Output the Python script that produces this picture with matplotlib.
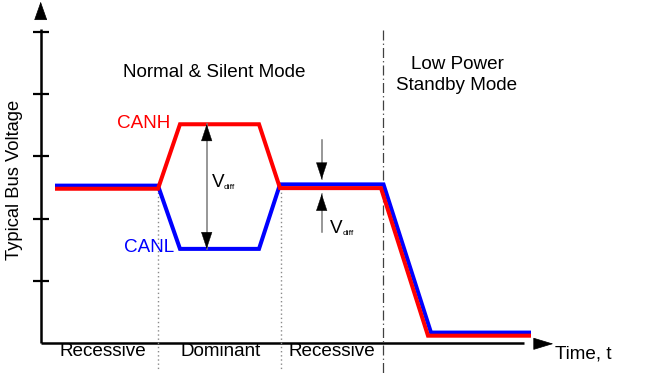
import matplotlib
matplotlib.use("Agg")
import matplotlib.pyplot as plt

plt.rcParams['font.family'] = ['Liberation Sans', 'DejaVu Sans']

# ---- data (time in arbitrary units, voltage in tick units) ----
canh_t = [1.43, 11.73, 13.93, 21.83, 23.93, 34.03, 38.73, 49.03]
canh_v = [2.48, 2.48, 3.52, 3.52, 2.49, 2.49, 0.11, 0.11]
canl_t = [1.43, 11.73, 13.93, 21.83, 23.93, 34.28, 39.03, 49.03]
canl_v = [2.53, 2.53, 1.51, 1.51, 2.55, 2.55, 0.16, 0.16]

y_ticks = [1, 2, 3, 4, 5]
bit_bounds = [11.76, 23.99]          # dotted separators
mode_bound = 34.18                   # dash-dot separator
bit_labels = ["Recessive", "Dominant", "Recessive"]
bit_label_t = [6.23, 18.03, 29.08]
vdiff_dom_t = 16.6
vdiff_rec_t = 28.1

RED = "#ff0000"
BLUE = "#0000ff"

fig = plt.figure(figsize=(6.5, 3.75), dpi=100)
ax = fig.add_axes([0, 0, 1, 1])
ax.set_xlim(-4.07, 60.93)
ax.set_ylim(-0.524, 5.524)
ax.axis("off")

FS = 13.6

# axes lines
ax.plot([0, 0], [0, 5.05], color="black", lw=1.8, solid_capstyle="butt")
ax.plot([0, 48.33], [0, 0], color="black", lw=1.8, solid_capstyle="butt")
ax.plot([0] * len(y_ticks), y_ticks, ls="none", marker="_", ms=12.2,
        mew=1.6, color="black")

# axis arrow heads
ax.annotate("", xy=(0, 5.497), xytext=(0, 5.218),
            arrowprops=dict(arrowstyle="-|>,head_length=12.2,head_width=4.3",
                            mutation_scale=1, color="black", lw=0.5,
                            shrinkA=0, shrinkB=0))
ax.annotate("", xy=(51.26, -0.021), xytext=(49.43, -0.021),
            arrowprops=dict(arrowstyle="-|>,head_length=13.2,head_width=4.0",
                            mutation_scale=1, color="black", lw=0.5,
                            shrinkA=0, shrinkB=0))

# separators
for t in bit_bounds:
    ax.plot([t, t], [2.49, -0.44], color="#8a8a8a", lw=1.0, ls=(0, (1, 2)))
ax.plot([mode_bound, mode_bound], [5.04, -0.6], color="#404040", lw=0.9,
        ls=(0, (8, 2.5, 1, 2.5)))

# signals
ax.plot(canl_t, canl_v, color=BLUE, lw=2.9, solid_joinstyle="miter",
        solid_capstyle="butt")
ax.plot(canh_t, canh_v, color=RED, lw=2.9, solid_joinstyle="miter",
        solid_capstyle="butt")

# Vdiff arrows
GRAY = "#7a7a7a"
def head(x, tip, tail):
    ax.annotate("", xy=(x, tip), xytext=(x, tail),
                arrowprops=dict(arrowstyle="-|>,head_length=11.5,head_width=3.8",
                                mutation_scale=1, color="black", lw=0.3,
                                shrinkA=0, shrinkB=0))

ax.plot([vdiff_dom_t, vdiff_dom_t], [canh_v[2], canl_v[2]], color=GRAY, lw=1.1)
head(vdiff_dom_t, canh_v[2], canh_v[2] - 0.2)
head(vdiff_dom_t, canl_v[2], canl_v[2] + 0.2)

ax.plot([vdiff_rec_t, vdiff_rec_t], [3.266, 2.632], color=GRAY, lw=1.1)
ax.plot([vdiff_rec_t, vdiff_rec_t], [2.395, 1.787], color=GRAY, lw=1.1)
head(vdiff_rec_t, 2.632, 2.85)
head(vdiff_rec_t, 2.395, 2.18)

# texts
ax.text(17.1, 2.503, "V", fontsize=FS, va="baseline", ha="left")
ax.text(18.33, 2.471, "diff", fontsize=6, va="baseline", ha="left")
ax.text(28.93, 1.761, "V", fontsize=FS, va="baseline", ha="left")
ax.text(30.16, 1.734, "diff", fontsize=6, va="baseline", ha="left")

ax.text(17.36, 4.277, "Normal & Silent Mode", fontsize=FS, ha="center",
        va="baseline")
ax.text(41.66, 4.411, "Low Power", fontsize=FS, ha="center", va="baseline")
ax.text(41.6, 4.073, "Standby Mode", fontsize=FS, ha="center", va="baseline")
ax.text(10.33, 3.455, "CANH", fontsize=FS, color=RED, ha="center",
        va="baseline")
ax.text(10.85, 1.455, "CANL", fontsize=FS, color=BLUE, ha="center",
        va="baseline")
for lab, t in zip(bit_labels, bit_label_t):
    ax.text(t, -0.218, lab, fontsize=FS, ha="center", va="baseline")
ax.text(51.43, -0.255, "Time, t", fontsize=FS, ha="left", va="baseline")
ax.text(-2.62, 2.62, "Typical Bus Voltage", fontsize=13.2, rotation=90,
        ha="center", va="center")

fig.savefig("out.png", dpi=100)
